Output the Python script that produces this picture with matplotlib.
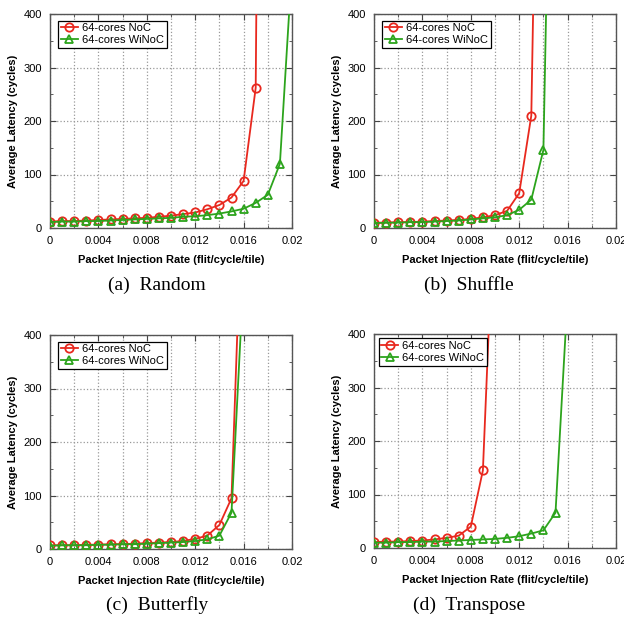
import matplotlib
matplotlib.use("Agg")
import matplotlib.pyplot as plt
from matplotlib.ticker import MultipleLocator
import numpy as np

plt.rcParams['font.family'] = ['Liberation Sans', 'DejaVu Sans']

rate = [i * 0.001 for i in range(21)]

random_noc = [12, 13, 13, 14, 15, 16, 17, 18, 19, 21, 23, 26, 29, 35, 43, 57, 88, 262, 3000]
random_winoc = [11, 12, 12, 13, 13, 14, 15, 16, 17, 18, 19, 21, 22, 24, 27, 31, 36, 47, 62, 120, 490]

shuffle_noc = [10, 10, 11, 11, 12, 13, 14, 15, 17, 20, 24, 32, 65, 210, 1500]
shuffle_winoc = [9, 10, 10, 11, 11, 12, 13, 14, 16, 18, 20, 24, 34, 53, 146, 1300]

butterfly_noc = [7, 7, 7, 8, 8, 9, 9, 10, 11, 12, 13, 15, 19, 25, 45, 95, 740]
butterfly_winoc = [6, 7, 7, 7, 8, 8, 9, 9, 10, 11, 12, 13, 15, 18, 25, 68, 510]

transpose_noc = [11, 12, 12, 13, 14, 16, 19, 23, 40, 145, 690]
transpose_winoc = [10, 10, 11, 11, 12, 12, 13, 14, 15, 16, 17, 19, 22, 27, 33, 66, 470]

captions = ["(a)  Random", "(b)  Shuffle", "(c)  Butterfly", "(d)  Transpose"]
series = [(random_noc, random_winoc), (shuffle_noc, shuffle_winoc),
          (butterfly_noc, butterfly_winoc), (transpose_noc, transpose_winoc)]

W, H = 624, 619
fig = plt.figure(figsize=(W / 100, H / 100), dpi=100)

# axes boxes in pixels: left, top, right, bottom
boxes = [(50, 14, 292, 228), (374, 14, 616, 228), (50, 335, 292, 549), (374, 334, 616, 548)]
leg_anchor = [(0.02, 0.985), (0.02, 0.985), (0.02, 0.985), (0.005, 0.995)]
cap_pos = [(157, 285), (469, 285), (157, 605), (469, 605)]

red = '#e8281e'
green = '#2ca41c'

for i, ((l, t, r, b), (noc, winoc)) in enumerate(zip(boxes, series)):
    ax = fig.add_axes([l / W, (H - b) / H, (r - l) / W, (b - t) / H])
    ax.plot(rate[:len(noc)], noc, color=red, marker='o', markersize=6, markerfacecolor='none',
            markeredgewidth=1.3, linewidth=1.3, label='64-cores NoC', clip_on=True, zorder=3)
    ax.plot(rate[:len(winoc)], winoc, color=green, marker='^', markersize=6, markerfacecolor='none',
            markeredgewidth=1.3, linewidth=1.3, label='64-cores WiNoC', clip_on=True, zorder=3)
    ax.set_xlim(0, 0.02)
    ax.set_ylim(0, 400)
    ax.xaxis.set_major_locator(MultipleLocator(0.004))
    ax.xaxis.set_minor_locator(MultipleLocator(0.002))
    ax.yaxis.set_major_locator(MultipleLocator(100))
    ax.yaxis.set_minor_locator(MultipleLocator(50))
    ax.set_xticklabels(['0' if abs(v) < 1e-9 else ('%g' % v) for v in ax.get_xticks()])
    ax.grid(True, which='major', axis='y', color='#999999', linestyle=':', linewidth=0.9)
    ax.grid(True, which='both', axis='x', color='#999999', linestyle=':', linewidth=0.9)
    ax.tick_params(axis='both', which='both', direction='in', labelsize=8, colors='#444444',
                   labelcolor='black', top=True, right=True, pad=6)
    ax.tick_params(which='major', length=4)
    ax.tick_params(which='minor', length=2)
    for s in ax.spines.values():
        s.set_color('#555555')
        s.set_linewidth(1.0)
    ax.set_xlabel('Packet Injection Rate (flit/cycle/tile)', fontsize=8, fontweight='bold', labelpad=6)
    ax.set_ylabel('Average Latency (cycles)', fontsize=8, fontweight='bold', labelpad=4)
    leg = ax.legend(loc='upper left', bbox_to_anchor=leg_anchor[i], fontsize=8, frameon=True,
                    fancybox=False, edgecolor='black', framealpha=1, borderpad=0.25,
                    handlelength=1.5, handletextpad=0.4, labelspacing=0.15, borderaxespad=0.3)
    leg.get_frame().set_linewidth(0.9)
    cx, cy = cap_pos[i]
    fig.text(cx / W, 1 - cy / H, captions[i], ha='center', va='center', fontsize=14,
             family=['Liberation Serif', 'DejaVu Serif'])

fig.savefig('out.png', dpi=100)
